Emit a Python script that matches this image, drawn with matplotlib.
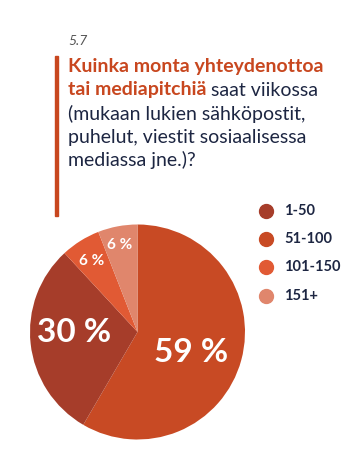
import matplotlib.pyplot as plt
from matplotlib.patches import Rectangle

W, H = 364, 468

labels = ["51-100", "1-50", "101-150", "151+"]
values = [59, 30, 6, 6]
colors = ["#C84A24", "#A63D2A", "#E15A34", "#E0866C"]
pct_text = ["59 %", "30 %", "6 %", "6 %"]
pct_size = [24, 24, 11, 11]
legend_order = ["1-50", "51-100", "101-150", "151+"]

navy = "#1D2642"
orange = "#C8471F"

plt.rcParams["font.family"] = ["Lato", "DejaVu Sans"]

fig = plt.figure(figsize=(W / 100, H / 100), dpi=100)
fig.patch.set_facecolor("white")

def px(x, y):
    return x / W, 1 - y / H

# side bar
fig.patches.append(Rectangle(px(55, 216), 3 / W, 160 / H, transform=fig.transFigure,
                             color=orange, zorder=1))

fig.text(*px(68, 41), "5.7", fontsize=10, style="italic", color="#555555", va="center")
lines = [
    [("Kuinka monta yhteydenottoa", orange, "bold")],
    [("tai mediapitchiä", orange, "bold"), (" saat viikossa", navy, "normal")],
    [("(mukaan lukien sähköpostit,", navy, "normal")],
    [("puhelut, viestit sosiaalisessa", navy, "normal")],
    [("mediassa jne.)?", navy, "normal")],
]
ys = [67, 90, 114, 137, 160]
for y, parts in zip(ys, lines):
    x0 = 68
    for txt, col, wt in parts:
        t = fig.text(*px(x0, y), txt, fontsize=14, color=col, fontweight=wt, va="center")
        fig.canvas.draw()
        bb = t.get_window_extent()
        x0 += bb.width

# pie
cx, cy, r = 137.5, 332, 107.5
ax = fig.add_axes([(cx - r) / W, 1 - (cy + r) / H, 2 * r / W, 2 * r / H])
wedges, _ = ax.pie(values, colors=colors, startangle=90, counterclock=False,
                   wedgeprops=dict(linewidth=0))
ax.set_aspect("equal")
ax.set_xlim(-1, 1)
ax.set_ylim(-1, 1)

label_pos = [(191, 352), (74, 333), (92, 261), (120, 245)]
for (x, y), t, s in zip(label_pos, pct_text, pct_size):
    fig.text(*px(x, y), t, fontsize=s, color="white", fontweight="bold",
             ha="center", va="center")

# legend
leg_y = [211, 239, 267, 296]
for lab, y in zip(legend_order, leg_y):
    c = colors[labels.index(lab)]
    fig.lines.append(plt.Line2D([266 / W], [1 - y / H], transform=fig.transFigure,
                                marker="o", markersize=10, color=c, linestyle=""))
    fig.text(*px(284, y), lab, fontsize=10.5, color=navy, fontweight="bold", va="center")

fig.savefig("out.png", dpi=100)
